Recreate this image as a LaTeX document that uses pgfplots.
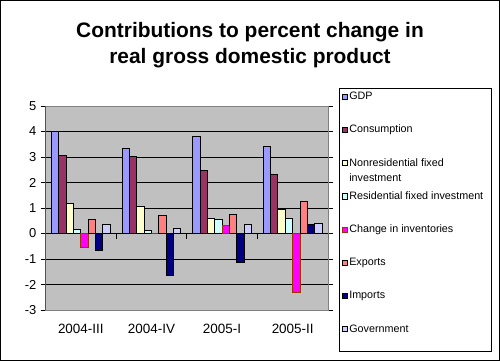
\documentclass[border=0pt]{standalone}
\usepackage{pgfplots}
\pgfplotsset{compat=1.18}
\usepackage{fontspec}
\setmainfont{Liberation Sans}
\definecolor{cGDP}{HTML}{9999FF}
\definecolor{cCons}{HTML}{993366}
\definecolor{cNonres}{HTML}{FFFFCC}
\definecolor{cRes}{HTML}{CCFFFF}
\definecolor{cInv}{HTML}{FF00FF}
\definecolor{cInvB}{HTML}{993300}
\definecolor{cExp}{HTML}{FF8080}
\definecolor{cImp}{HTML}{000080}
\definecolor{cGov}{HTML}{CCCCFF}
\definecolor{plotbg}{HTML}{C0C0C0}
\definecolor{plotborder}{HTML}{808080}
\begin{document}
\begin{tikzpicture}[x=1bp,y=1bp]
\useasboundingbox (0,0) rectangle (500,361);
\draw[black, line width=1bp] (0.5,0.5) rectangle (499.5,360.5);
\draw[black, line width=1bp] (339,10) rectangle (491,273);
\node[anchor=base, font=\fontsize{21}{24}\selectfont\bfseries] at (250,323.7) {Contributions to percent change in};
\node[anchor=base, font=\fontsize{21}{24}\selectfont\bfseries] at (250,297.7) {real gross domestic product};
\begin{axis}[
  at={(45.5bp,51bp)}, anchor=south west,
  scale only axis, width=282.5bp, height=204bp,
  xmin=-0.5, xmax=3.5, ymin=-3, ymax=5,
  ybar=0pt, bar width=7.35bp,
  legend image code/.code={\draw[#1, line width=0.8bp] (0bp,-2.6bp) rectangle (5.2bp,2.6bp);},
  axis background/.style={fill=plotbg},
  axis line style={draw=plotborder, line width=1bp},
  ymajorgrids, grid style={black, line width=1bp},
  xtick={0,1,2,3},
  xticklabels={2004-III,2004-IV,2005-I,2005-II},
  xtick style={draw=none},
  ytick={-3,-2,-1,0,1,2,3,4,5},
  ytick style={black, line width=1bp},
  tick align=outside, major tick length=5bp,
  /pgf/number format/assume math mode=true,
  yticklabel style={font=\fontsize{13}{15}\selectfont, anchor=east, inner sep=0pt, xshift=-4bp},
  xticklabel style={font=\fontsize{13.5}{15}\selectfont, anchor=base, yshift=-18bp},
  legend style={at={(1.0389,1.0882)}, anchor=north west, draw=none, fill=none,
    inner xsep=2.5bp, inner ysep=3bp, row sep=22.2bp,
    font=\fontsize{10.8}{15}\selectfont,
    nodes={inner xsep=1.6bp, inner ysep=0bp, text height=8.5bp, text depth=2.5bp}},
  legend cell align=left,
  every axis plot/.append style={line width=1bp},
]
\addplot[fill=cGDP, draw=black] coordinates {(0,4.0) (1,3.33) (2,3.8) (3,3.41)};
\addlegendentry{GDP}
\addplot[fill=cCons, draw=black] coordinates {(0,3.06) (1,3.02) (2,2.47) (3,2.31)};
\addlegendentry{Consumption}
\addplot[fill=cNonres, draw=black] coordinates {(0,1.18) (1,1.06) (2,0.59) (3,0.94)};
\addlegendentry{\begin{tabular}[t]{@{}l@{}}Nonresidential fixed\\investment\end{tabular}}
\addplot[fill=cRes, draw=black] coordinates {(0,0.16) (1,0.12) (2,0.55) (3,0.59)};
\addlegendentry{Residential fixed investment}
\addplot[fill=cInv, draw=cInvB] coordinates {(0,-0.56) (1,0) (2,0.31) (3,-2.31)};
\addlegendentry{Change in inventories}
\addplot[fill=cExp, draw=black] coordinates {(0,0.55) (1,0.71) (2,0.75) (3,1.25)};
\addlegendentry{Exports}
\addplot[fill=cImp, draw=black] coordinates {(0,-0.67) (1,-1.66) (2,-1.15) (3,0.35)};
\addlegendentry{Imports}
\addplot[fill=cGov, draw=black] coordinates {(0,0.35) (1,0.2) (2,0.35) (3,0.4)};
\addlegendentry{Government}
\draw[black, line width=1bp] (rel axis cs:0,0) -- (rel axis cs:0,1);
\pgfplotsinvokeforeach{0.5,1.5,2.5,3.5}{
  \draw[black, line width=1bp] (axis cs:#1,0) -- ([yshift=-5bp]axis cs:#1,0);
}
\end{axis}
\end{tikzpicture}
\end{document}
